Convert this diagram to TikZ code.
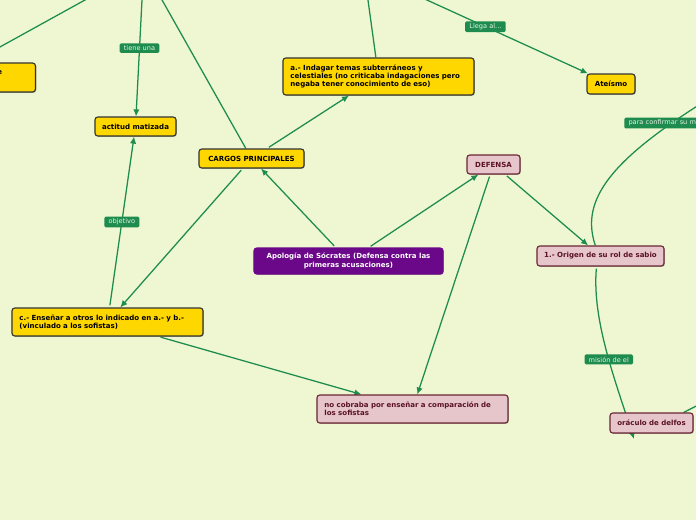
\documentclass[tikz,border=0pt]{standalone}
\usepackage{fontspec}
\setmainfont{DejaVu Sans}
\usetikzlibrary{arrows.meta,shadows}
\definecolor{paper}{RGB}{238,247,209}
\definecolor{gold}{HTML}{FFD700}
\definecolor{ink}{HTML}{333333}
\definecolor{blush}{HTML}{E6C5CB}
\definecolor{wine}{HTML}{6B2535}
\definecolor{winetext}{HTML}{5A1222}
\definecolor{plum}{HTML}{6B0889}
\definecolor{leaf}{HTML}{1E8C4E}
\definecolor{leaftext}{HTML}{E6F3E6}
\pgfdeclarelayer{bg}
\pgfdeclarelayer{edges}
\pgfsetlayers{bg,edges,main}

\begin{document}
\begin{tikzpicture}[
    x=0.025cm, y=-0.025cm,
    mapbox/.style={
        rounded corners=2pt, line width=0.8pt, inner sep=0pt, align=center,
        font=\fontsize{5}{6}\selectfont\bfseries,
        drop shadow={shadow xshift=0.6pt, shadow yshift=-0.6pt, opacity=0.25, fill=black},
    },
    ybox/.style={mapbox, draw=ink, fill=gold, text=black},
    pbox/.style={mapbox, draw=wine, fill=blush, text=winetext},
    vbox/.style={mapbox, draw=plum, fill=plum, text=white},
    lbl/.style={fill=leaf, text=leaftext, rounded corners=1pt,
        font=\fontsize{4.7}{5.5}\selectfont, inner xsep=3pt, inner ysep=1.6pt},
    conn/.style={leaf, line width=0.9pt},
    arr/.style={conn, shorten <=1.5pt, -{Latex[length=5pt,width=4.5pt]}},
]
\useasboundingbox (0,0) rectangle (696,520);

% ════════════════════════════════════════
% Background
% ════════════════════════════════════════
\begin{pgfonlayer}{bg}
\fill[paper] (0,0) rectangle (696,520);
\end{pgfonlayer}

% ════════════════════════════════════════
% Topic boxes
% ════════════════════════════════════════
\node[ybox, minimum width=0.725cm, minimum height=0.725cm, anchor=east, minimum width=3cm] (lateral) at (36,77.5) {};
\node[font=\fontsize{5}{6}\selectfont\bfseries, anchor=west, inner sep=0pt] (lateraltxt) at (-3,73) {e};

\node[ybox, minimum width=2.025cm, minimum height=0.475cm] (actitud) at (135.5,126.5) {actitud matizada};
\node[ybox, minimum width=2.625cm, minimum height=0.475cm] (cargos) at (251.5,158.5) {CARGOS PRINCIPALES};
\node[ybox, minimum width=4.775cm, minimum height=0.925cm, text width=4.4cm, align=left] (indagar) at (378.5,76.5)
    {a.- Indagar temas subterráneos y\\celestiales (no criticaba indagaciones pero\\negaba tener conocimiento de eso)};
\node[ybox, minimum width=1.2cm, minimum height=0.5cm] (ateismo) at (611,84) {Ateísmo};

\node[pbox, minimum width=1.325cm, minimum height=0.475cm] (defensa) at (493.5,164.5) {DEFENSA};
\node[pbox, minimum width=3.175cm, minimum height=0.5cm] (origen) at (600.5,256) {1.- Origen de su rol de sabio};

\node[vbox, minimum width=4.725cm, minimum height=0.65cm] (apologia) at (348.5,261)
    {Apología de Sócrates (Defensa contra las\\primeras acusaciones)};

\node[ybox, minimum width=4.775cm, minimum height=0.7cm, text width=4.4cm, align=left] (ensenar) at (107.5,322)
    {c.- Enseñar a otros lo indicado en a.- y b.-\\(vinculado a los sofistas)};
\node[pbox, minimum width=4.775cm, minimum height=0.7cm, text width=4.4cm, align=left] (cobraba) at (412.5,409)
    {no cobraba por enseñar a comparación de\\los sofistas};
\node[pbox, minimum width=2.075cm, minimum height=0.5cm] (oraculo) at (651.5,423) {oráculo de delfos};

% ════════════════════════════════════════
% Loose ends (nodes outside the view)
% ════════════════════════════════════════
\coordinate (lefta) at (-20,58);
\coordinate (topa) at (100,-8.3);
\coordinate (topb) at (142.5,-10);
\coordinate (topc) at (156.4,-10);
\coordinate (topd) at (366.6,-10);
\coordinate (tope) at (405,-10);
\coordinate (confirmend) at (710,98);
\coordinate (oraculotip) at (634,439);
\coordinate (farright) at (720,394);

% ════════════════════════════════════════
% Connectors
% ════════════════════════════════════════
\begin{pgfonlayer}{edges}
\draw[conn] (lefta) -- (topa);
\draw[arr] (topb) -- (actitud) node[lbl, pos=0.46] {tiene una};
\draw[conn] (cargos) -- (topc);
\draw[conn] (indagar) -- (topd);
\draw[arr] (tope) -- (ateismo) node[lbl, pos=0.44] {Llega al...};

\draw[arr] (cargos) -- (indagar);
\draw[arr] (cargos) -- (ensenar);
\draw[arr] (ensenar) -- (actitud) node[lbl, midway] {objetivo};
\draw[arr] (ensenar) -- (cobraba);

\draw[arr] (apologia) -- (cargos);
\draw[arr] (apologia) -- (defensa);
\draw[arr] (defensa) -- (origen);
\draw[arr] (defensa) -- (cobraba);

% curves around the sabio node
\draw[conn] ([xshift=-0.13cm]origen.north) .. controls (580,200) and (610,160) .. (confirmend);
\draw[arr] ([xshift=-0.1cm]origen.south) .. controls (592,320) and (615,380) .. (oraculotip)
    node[lbl, pos=0.55] {misión de el};
\draw[conn] ([xshift=-0.25cm]oraculo.north east) -- (farright);
\end{pgfonlayer}

\node[lbl, anchor=west, text width=2.1cm, align=left] (confirmlbl) at (624,123) {para confirmar su m};

\end{tikzpicture}
\end{document}
